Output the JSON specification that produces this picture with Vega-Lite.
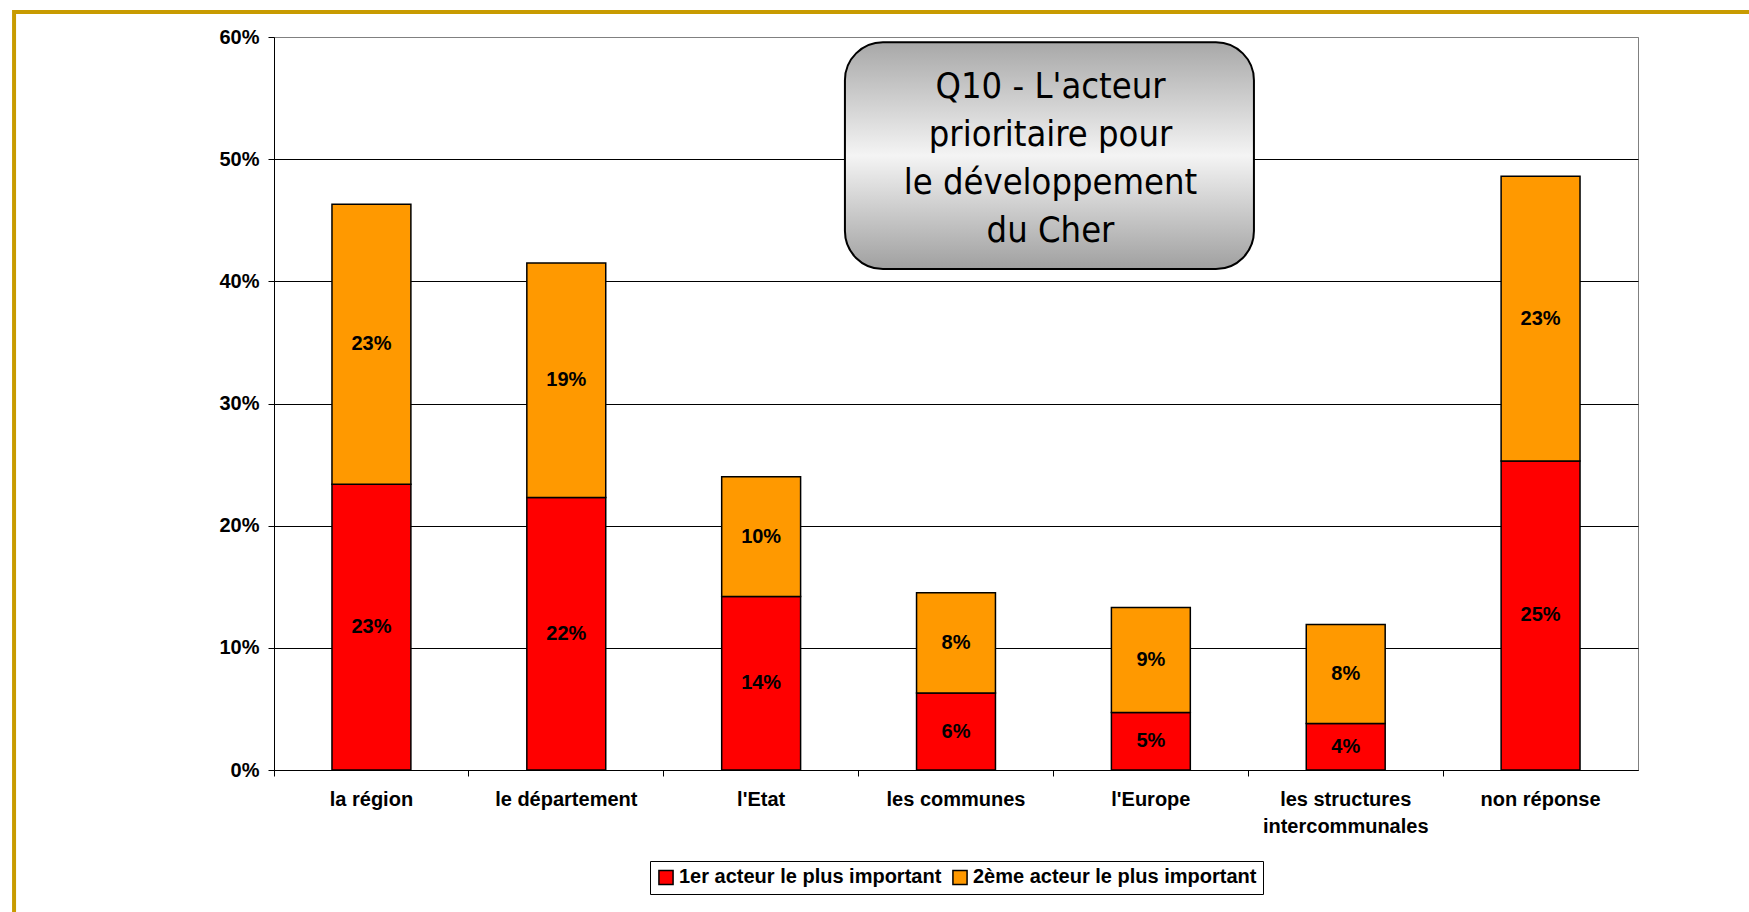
{
  "$schema": "https://vega.github.io/schema/vega-lite/v6.json",
  "autosize": {"type": "none"},
  "width": 1364,
  "height": 733,
  "padding": {"left": 274, "top": 37, "right": 111, "bottom": 142},
  "background": "white",
  "config": {"view": {"stroke": "#808080", "strokeWidth": 1}, "font": "Liberation Sans"},
  "datasets": {
    "bars": [
      {"cat": "la région", "series": "1er acteur le plus important", "order": 1, "value": 0.234},
      {"cat": "la région", "series": "2ème acteur le plus important", "order": 2, "value": 0.229},
      {"cat": "le département", "series": "1er acteur le plus important", "order": 1, "value": 0.223},
      {"cat": "le département", "series": "2ème acteur le plus important", "order": 2, "value": 0.192},
      {"cat": "l'Etat", "series": "1er acteur le plus important", "order": 1, "value": 0.142},
      {"cat": "l'Etat", "series": "2ème acteur le plus important", "order": 2, "value": 0.098},
      {"cat": "les communes", "series": "1er acteur le plus important", "order": 1, "value": 0.063},
      {"cat": "les communes", "series": "2ème acteur le plus important", "order": 2, "value": 0.082},
      {"cat": "l'Europe", "series": "1er acteur le plus important", "order": 1, "value": 0.047},
      {"cat": "l'Europe", "series": "2ème acteur le plus important", "order": 2, "value": 0.086},
      {"cat": "les structures intercommunales", "series": "1er acteur le plus important", "order": 1, "value": 0.038},
      {"cat": "les structures intercommunales", "series": "2ème acteur le plus important", "order": 2, "value": 0.081},
      {"cat": "non réponse", "series": "1er acteur le plus important", "order": 1, "value": 0.253},
      {"cat": "non réponse", "series": "2ème acteur le plus important", "order": 2, "value": 0.233}
    ],
    "box": [
      {"x1": 2.93, "x2": 5.029, "y1": 0.5957, "y2": 0.41, "tx": 3.985, "ty": 0.5589, "title": "Q10 - L'acteur\nprioritaire pour\nle développement\ndu Cher"}
    ],
    "frame": [
      {"x1": -1.334, "x2": 8, "y1": 0.6204, "y2": -0.3}
    ]
  },
  "layer": [
    {
      "layer": [
        {
          "data": {"name": "frame"},
          "mark": {"type": "rect", "fill": "white", "fillOpacity": 0, "stroke": "#C89B00", "strokeWidth": 4, "clip": false},
          "encoding": {
            "x": {"field": "x1", "type": "quantitative", "scale": {"domain": [0, 7], "nice": false, "zero": false}, "axis": null},
            "x2": {"field": "x2"},
            "y": {"field": "y1", "type": "quantitative", "scale": {"domain": [0, 0.6], "nice": false}},
            "y2": {"field": "y2"}
          }
        },
        {
          "data": {"name": "box"},
          "mark": {
            "type": "rect",
            "cornerRadius": 38,
            "stroke": "black",
            "strokeWidth": 2,
            "fill": {
              "gradient": "linear", "x1": 0, "y1": 0, "x2": 0, "y2": 1,
              "stops": [
                {"offset": 0, "color": "#a8a8a8"},
                {"offset": 0.5, "color": "#f4f4f4"},
                {"offset": 1, "color": "#a0a0a0"}
              ]
            }
          },
          "encoding": {
            "x": {"field": "x1", "type": "quantitative", "scale": {"domain": [0, 7], "nice": false, "zero": false}, "axis": null},
            "x2": {"field": "x2"},
            "y": {"field": "y1", "type": "quantitative", "scale": {"domain": [0, 0.6], "nice": false}},
            "y2": {"field": "y2"}
          }
        },
        {
          "data": {"name": "box"},
          "mark": {"type": "text", "font": "'Liberation Sans Narrow', 'DejaVu Sans Condensed', 'Roboto Condensed', 'Liberation Sans', sans-serif", "fontSize": 36, "lineHeight": 48, "lineBreak": "\n", "align": "center", "baseline": "middle", "color": "black"},
          "encoding": {
            "x": {"field": "tx", "type": "quantitative", "scale": {"domain": [0, 7], "nice": false, "zero": false}, "axis": null},
            "y": {"field": "ty", "type": "quantitative", "scale": {"domain": [0, 0.6], "nice": false}},
            "text": {"field": "title"}
          }
        }
      ]
    },
    {
      "data": {"name": "bars"},
      "transform": [
        {"stack": "value", "groupby": ["cat"], "sort": [{"field": "order", "order": "ascending"}], "as": ["v0", "v1"]},
        {"calculate": "(datum.v0 + datum.v1) / 2", "as": "mid"}
      ],
      "layer": [
        {
          "mark": {"type": "bar", "width": {"band": 0.405}, "stroke": "black", "strokeWidth": 1.5},
          "encoding": {
            "x": {
              "field": "cat", "type": "nominal",
              "sort": ["la région", "le département", "l'Etat", "les communes", "l'Europe", "les structures intercommunales", "non réponse"],
              "scale": {"paddingInner": 0, "paddingOuter": 0},
              "axis": {
                "title": null, "bandPosition": 0, "labelAngle": 0,
                "labelFont": "Liberation Sans", "labelFontWeight": "bold", "labelFontSize": 20, "labelColor": "black",
                "domainColor": "black", "tickColor": "black", "tickSize": 6, "labelPadding": 13, "labelLineHeight": 27,
                "labelLimit": 400, "labelBaseline": "top",
                "labelExpr": "datum.label == 'les structures intercommunales' ? ['les structures', 'intercommunales'] : datum.label"
              }
            },
            "y": {
              "field": "v1", "type": "quantitative",
              "scale": {"domain": [0, 0.6], "nice": false},
              "axis": {
                "title": null, "format": ".0%", "values": [0, 0.1, 0.2, 0.3, 0.4, 0.5, 0.6],
                "labelFont": "Liberation Sans", "labelFontWeight": "bold", "labelFontSize": 20, "labelColor": "black",
                "domainColor": "black", "tickColor": "black", "tickSize": 6, "labelPadding": 9,
                "grid": true, "gridWidth": 1,
                "gridColor": {"condition": {"test": "datum.value >= 0.59", "value": "#808080"}, "value": "#000000"}
              }
            },
            "y2": {"field": "v0"},
            "color": {
              "field": "series", "type": "nominal",
              "scale": {"domain": ["1er acteur le plus important", "2ème acteur le plus important"], "range": ["#FF0000", "#FF9900"]},
              "legend": {
                "title": null, "orient": "none", "legendX": 376, "legendY": 824, "direction": "horizontal",
                "strokeColor": "black", "fillColor": "white", "padding": 6,
                "symbolType": "square", "symbolSize": 200, "symbolStrokeColor": "black", "symbolStrokeWidth": 1.5,
                "labelFont": "Liberation Sans", "labelFontWeight": "bold", "labelFontSize": 20, "labelColor": "black",
                "labelOffset": 3, "columnPadding": 7, "labelLimit": 400
              }
            }
          }
        },
        {
          "mark": {"type": "text", "fontWeight": "bold", "fontSize": 20, "color": "black", "baseline": "middle", "font": "Liberation Sans"},
          "encoding": {
            "x": {
              "field": "cat", "type": "nominal",
              "sort": ["la région", "le département", "l'Etat", "les communes", "l'Europe", "les structures intercommunales", "non réponse"]
            },
            "y": {"field": "mid", "type": "quantitative"},
            "text": {"field": "value", "type": "quantitative", "format": ".0%"}
          }
        }
      ]
    }
  ],
  "resolve": {"scale": {"x": "independent"}}
}
